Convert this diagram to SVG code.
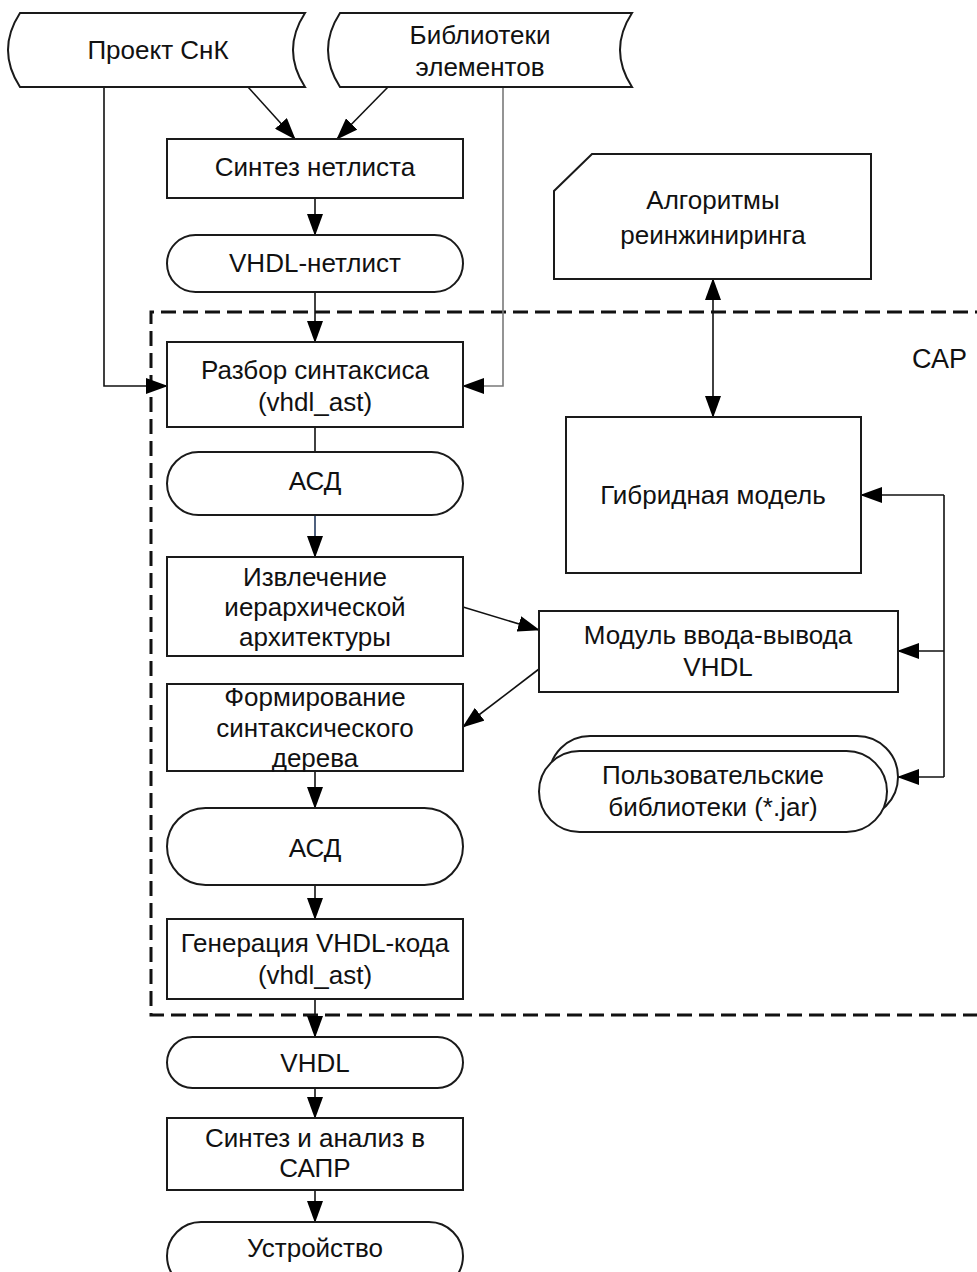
<svg xmlns="http://www.w3.org/2000/svg" width="977" height="1272" viewBox="0 0 977 1272">
  <style>
    .shape { fill: #ffffff; stroke: #1a1a1a; stroke-width: 2; }
    .lbl { font-family: "Liberation Sans", Arial, sans-serif; font-size: 26px; fill: #111111; text-anchor: middle; }
    .conn { fill: none; stroke: #111111; stroke-width: 1.6; }
    .gray { stroke: #7a7a7a; }
    .blue { stroke: #23395d; }
    .frame { fill: none; stroke: #111111; stroke-width: 3; stroke-dasharray: 15 7; }
  </style>
  <defs>
    <marker id="arr" markerUnits="userSpaceOnUse" markerWidth="22" markerHeight="16" refX="21" refY="8" orient="auto-start-reverse">
      <path d="M0,0 L22,8 L0,16 Z" fill="#000000"/>
    </marker>
  </defs>

  <rect width="977" height="1272" fill="#ffffff"/>

  <!-- system boundary -->
  <g id="boundary">
    <path class="frame" d="M990,312 H151 V1015 H990"/>
    <text class="lbl" x="912" y="368" style="text-anchor:start;font-size:27px">САР</text>
  </g>

  <!-- connectors -->
  <g id="connectors">
    <line class="conn" x1="248" y1="87" x2="295" y2="139" marker-end="url(#arr)"/>
    <line class="conn" x1="388" y1="87" x2="337" y2="139" marker-end="url(#arr)"/>
    <line class="conn" x1="315" y1="198" x2="315" y2="235" marker-end="url(#arr)"/>
    <line class="conn" x1="315" y1="292" x2="315" y2="342" marker-end="url(#arr)"/>
    <path class="conn" d="M104,87 V386 H167" marker-end="url(#arr)"/>
    <path class="conn gray" d="M503,87 V386 H463" marker-end="url(#arr)"/>
    <line class="conn" x1="315" y1="427" x2="315" y2="452"/>
    <line class="conn blue" x1="315" y1="515" x2="315" y2="557" marker-end="url(#arr)"/>
    <line class="conn" x1="463" y1="607" x2="539" y2="630" marker-end="url(#arr)"/>
    <line class="conn" x1="539" y1="669" x2="463" y2="727" marker-end="url(#arr)"/>
    <line class="conn" x1="315" y1="771" x2="315" y2="808" marker-end="url(#arr)"/>
    <line class="conn" x1="315" y1="885" x2="315" y2="919" marker-end="url(#arr)"/>
    <line class="conn" x1="315" y1="999" x2="315" y2="1037" marker-end="url(#arr)"/>
    <line class="conn" x1="315" y1="1088" x2="315" y2="1118" marker-end="url(#arr)"/>
    <line class="conn" x1="315" y1="1190" x2="315" y2="1222" marker-end="url(#arr)"/>
    <line class="conn" x1="713" y1="279" x2="713" y2="417" marker-start="url(#arr)" marker-end="url(#arr)"/>
    <line class="conn" x1="944" y1="495" x2="944" y2="777"/>
    <line class="conn" x1="944" y1="495" x2="861" y2="495" marker-end="url(#arr)"/>
    <line class="conn" x1="944" y1="651" x2="898" y2="651" marker-end="url(#arr)"/>
    <line class="conn" x1="944" y1="777" x2="898" y2="777" marker-end="url(#arr)"/>
  </g>

  <!-- nodes -->
  <g id="project">
    <path class="shape" d="M20,13 L305,13 Q281,50 305,87 L20,87 Q-4,50 20,13 Z"/>
    <text class="lbl" x="158" y="59">Проект СнК</text>
  </g>
  <g id="libraries">
    <path class="shape" d="M340,13 L632,13 Q608,50 632,87 L340,87 Q316,50 340,13 Z"/>
    <text class="lbl" x="480" y="44">Библиотеки</text>
    <text class="lbl" x="480" y="76">элементов</text>
  </g>
  <g id="netlist-synthesis">
    <rect class="shape" x="167" y="139" width="296" height="59"/>
    <text class="lbl" x="315" y="176">Синтез нетлиста</text>
  </g>
  <g id="vhdl-netlist">
    <rect class="shape" x="167" y="235" width="296" height="57" rx="28.5" ry="28.5"/>
    <text class="lbl" x="315" y="272">VHDL-нетлист</text>
  </g>
  <g id="parse">
    <rect class="shape" x="167" y="342" width="296" height="85"/>
    <text class="lbl" x="315" y="379">Разбор синтаксиса</text>
    <text class="lbl" x="315" y="411">(vhdl_ast)</text>
  </g>
  <g id="ast-1">
    <rect class="shape" x="167" y="452" width="296" height="63" rx="31.5" ry="31.5"/>
    <text class="lbl" x="315" y="490">АСД</text>
  </g>
  <g id="extract">
    <rect class="shape" x="167" y="557" width="296" height="99"/>
    <text class="lbl" x="315" y="586">Извлечение</text>
    <text class="lbl" x="315" y="616">иерархической</text>
    <text class="lbl" x="315" y="646">архитектуры</text>
  </g>
  <g id="build-tree">
    <rect class="shape" x="167" y="684" width="296" height="87"/>
    <text class="lbl" x="315" y="706">Формирование</text>
    <text class="lbl" x="315" y="737">синтаксического</text>
    <text class="lbl" x="315" y="767">дерева</text>
  </g>
  <g id="ast-2">
    <rect class="shape" x="167" y="808" width="296" height="77" rx="38.5" ry="38.5"/>
    <text class="lbl" x="315" y="857">АСД</text>
  </g>
  <g id="codegen">
    <rect class="shape" x="167" y="919" width="296" height="80"/>
    <text class="lbl" x="315" y="952">Генерация VHDL-кода</text>
    <text class="lbl" x="315" y="984">(vhdl_ast)</text>
  </g>
  <g id="vhdl">
    <rect class="shape" x="167" y="1037" width="296" height="51" rx="25.5" ry="25.5"/>
    <text class="lbl" x="315" y="1072">VHDL</text>
  </g>
  <g id="cad">
    <rect class="shape" x="167" y="1118" width="296" height="72"/>
    <text class="lbl" x="315" y="1147">Синтез и анализ в</text>
    <text class="lbl" x="315" y="1177">САПР</text>
  </g>
  <g id="device">
    <rect class="shape" x="167" y="1222" width="296" height="68" rx="34" ry="34"/>
    <text class="lbl" x="315" y="1257">Устройство</text>
  </g>
  <g id="algorithms">
    <path class="shape" d="M592,154 L871,154 L871,279 L554,279 L554,191 Z"/>
    <text class="lbl" x="713" y="209">Алгоритмы</text>
    <text class="lbl" x="713" y="244">реинжиниринга</text>
  </g>
  <g id="hybrid-model">
    <rect class="shape" x="566" y="417" width="295" height="156"/>
    <text class="lbl" x="713" y="504">Гибридная модель</text>
  </g>
  <g id="io-module">
    <rect class="shape" x="539" y="611" width="359" height="81"/>
    <text class="lbl" x="718" y="644">Модуль ввода-вывода</text>
    <text class="lbl" x="718" y="676">VHDL</text>
  </g>
  <g id="user-libs">
    <rect class="shape" x="549" y="736" width="349" height="82" rx="41" ry="41"/>
    <rect class="shape" x="539" y="751" width="348" height="81" rx="40.5" ry="40.5"/>
    <text class="lbl" x="713" y="784">Пользовательские</text>
    <text class="lbl" x="713" y="816">библиотеки (*.jar)</text>
  </g>
</svg>
